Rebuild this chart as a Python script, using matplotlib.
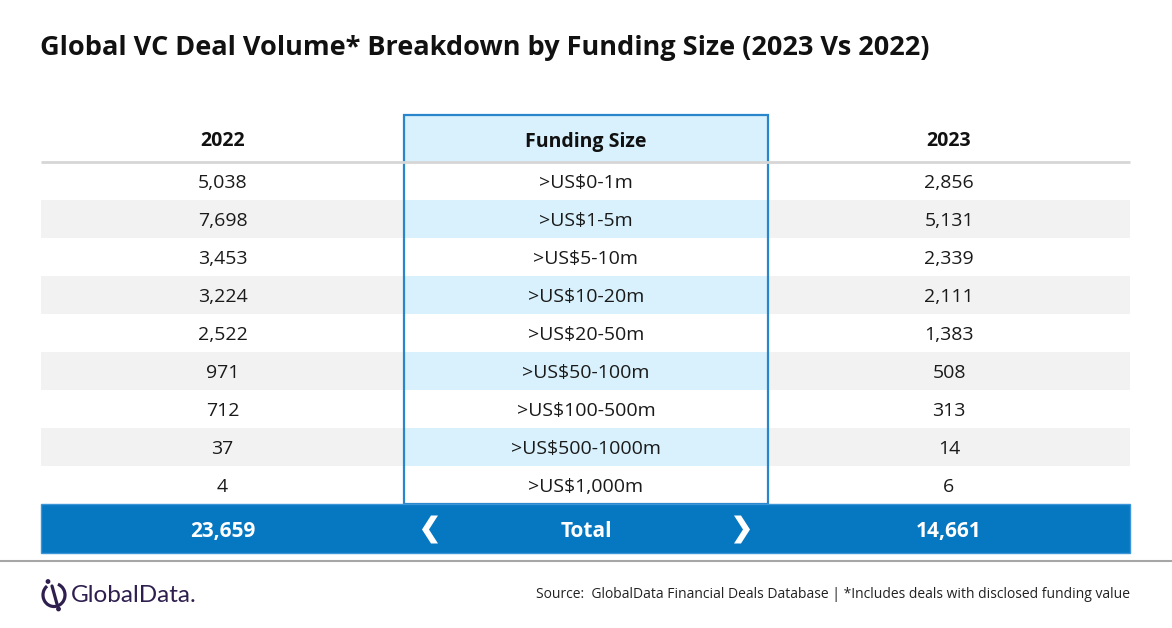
import matplotlib
matplotlib.use("Agg")
import matplotlib.pyplot as plt
from matplotlib.patches import Rectangle, Circle, Arc, Polygon

# ---- data ----
funding_sizes = [">US$0-1m", ">US$1-5m", ">US$5-10m", ">US$10-20m", ">US$20-50m",
                 ">US$50-100m", ">US$100-500m", ">US$500-1000m", ">US$1,000m"]
deals_2022 = [5038, 7698, 3453, 3224, 2522, 971, 712, 37, 4]
deals_2023 = [2856, 5131, 2339, 2111, 1383, 508, 313, 14, 6]
col_headers = ["2022", "Funding Size", "2023"]
total_label = "Total"
title = "Global VC Deal Volume* Breakdown by Funding Size (2023 Vs 2022)"
source = "Source:  GlobalData Financial Deals Database | *Includes deals with disclosed funding value"

FONT = "Open Sans"
BLUE = "#0677C1"
BORDER = "#2A86CC"
LIGHT = "#D8F1FC"
GRAY = "#F2F2F2"

W, H = 1172, 628
fig = plt.figure(figsize=(W / 100, H / 100), dpi=100)
ax = fig.add_axes([0, 0, 1, 1])
ax.set_xlim(0, W)
ax.set_ylim(H, 0)
ax.axis("off")

# layout
x0, x1 = 41, 1130
mx0, mx1 = 404, 768
head_top, head_bot = 115, 162
row_h = 38
n = len(funding_sizes)
tot_top = head_bot + n * row_h
tot_bot = tot_top + 49

col_cx = [(x0 + mx0) / 2, (mx0 + mx1) / 2, (mx1 + x1) / 2]

# header
ax.add_patch(Rectangle((mx0, head_top), mx1 - mx0, head_bot - head_top, facecolor=LIGHT, edgecolor="none"))
ax.plot([x0, x1], [head_bot, head_bot], color="#D6D6D6", lw=2, solid_capstyle="butt")
for cx, h in zip(col_cx, col_headers):
    ax.text(cx, (head_top + head_bot) / 2 + 3, h, ha="center", va="center",
            fontsize=14, fontweight="bold", family=FONT, color="#111111")

# rows
for i, (fs, a, b) in enumerate(zip(funding_sizes, deals_2022, deals_2023)):
    top = head_bot + i * row_h
    if i % 2 == 1:
        ax.add_patch(Rectangle((x0, top), mx0 - x0, row_h, facecolor=GRAY, edgecolor="none"))
        ax.add_patch(Rectangle((mx1, top), x1 - mx1, row_h, facecolor=GRAY, edgecolor="none"))
        ax.add_patch(Rectangle((mx0, top), mx1 - mx0, row_h, facecolor=LIGHT, edgecolor="none"))
    cy = top + row_h / 2 + 2
    for cx, s in zip(col_cx, [f"{a:,}", fs, f"{b:,}"]):
        ax.text(cx, cy, s, ha="center", va="center", fontsize=14, family=FONT, color="#1a1a1a")

# middle column border
ax.add_patch(Rectangle((mx0, head_top), mx1 - mx0, tot_top - head_top, facecolor="none",
                       edgecolor=BORDER, lw=1.6))

# total row
ax.add_patch(Rectangle((x0, tot_top), x1 - x0, tot_bot - tot_top, facecolor=BLUE, edgecolor="#3C95D6", lw=1))
tcy = (tot_top + tot_bot) / 2 + 3
for cx, s in zip(col_cx, [f"{sum(deals_2022):,}", total_label, f"{sum(deals_2023):,}"]):
    ax.text(cx, tcy, s, ha="center", va="center", fontsize=15,
            fontweight="bold", family=FONT, color="white")


def chevron(cx, cy, d):
    # d = -1 for left-pointing, +1 for right-pointing
    hw, hh, t = 8, 14, 7
    if d == 1:
        pts = [(cx - hw, cy - hh), (cx - hw + t, cy - hh), (cx + hw, cy),
               (cx - hw + t, cy + hh), (cx - hw, cy + hh), (cx + hw - t, cy)]
    else:
        pts = [(cx + hw, cy - hh), (cx + hw - t, cy - hh), (cx - hw, cy),
               (cx + hw - t, cy + hh), (cx + hw, cy + hh), (cx - hw + t, cy)]
    ax.add_patch(Polygon(pts, closed=True, facecolor="white", edgecolor="none"))


ccy = (tot_top + tot_bot) / 2 + 1
chevron(mx0 + 26, ccy, -1)
chevron(mx1 - 26, ccy, 1)

# title
ax.text(40, 48, title, ha="left", va="center", fontsize=19.5, fontweight="bold",
        family=FONT, color="#111111")

# footer line
ax.plot([0, W], [561, 561], color="#A6A6A6", lw=1.5)

# logo
PURP = "#2E1F4F"
ax.add_patch(Arc((54, 595), 22, 23, theta1=-70, theta2=232, color=PURP, lw=2.3))
ax.plot([52, 57], [586, 604], color=PURP, lw=2.3, solid_capstyle="round")
ax.add_patch(Circle((48, 581.5), 1.7, color=PURP))
ax.add_patch(Circle((58.5, 609), 1.7, color=PURP))
ax.text(71, 596, "GlobalData.", ha="left", va="center", fontsize=17.5, family="Lato",
        color=PURP)

# source
ax.text(1130, 594, source, ha="right", va="center", fontsize=10, family=FONT, color="#222222")

fig.savefig("out.png", dpi=100)
